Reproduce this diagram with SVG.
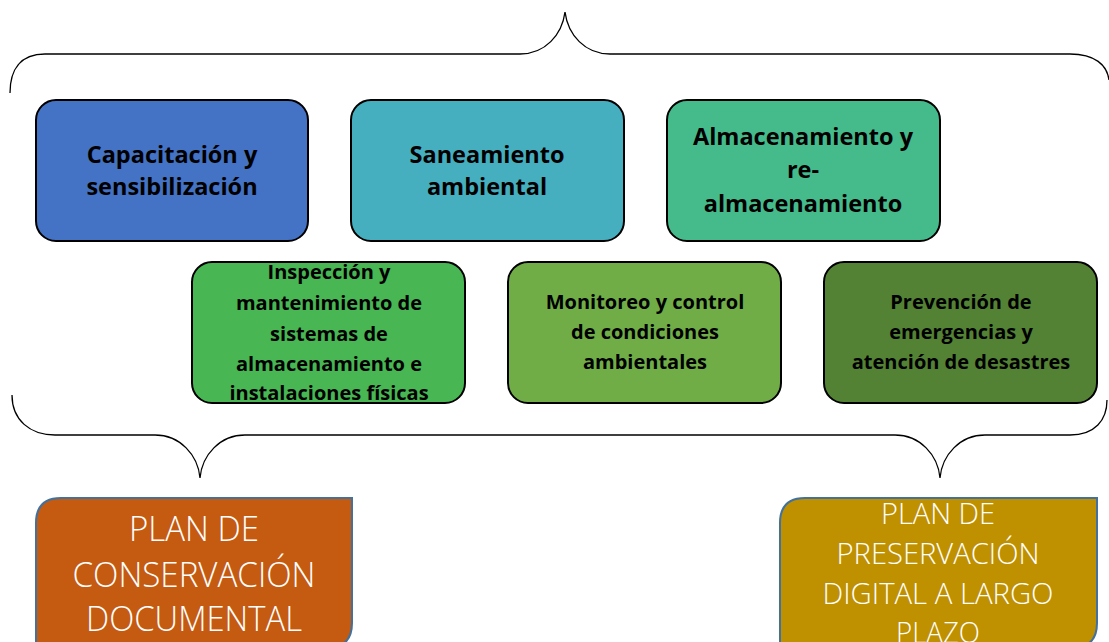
<svg xmlns="http://www.w3.org/2000/svg" width="1109" height="642" viewBox="0 0 1109 642">
<style>
.box{stroke:#000;stroke-width:2}
.t{font-family:"Open Sans","Noto Sans","Liberation Sans",sans-serif;font-weight:bold;fill:#000;text-anchor:middle}
.t1{font-size:23.5px}
.t2{font-size:20px}
.w{font-family:"Open Sans","Liberation Sans",sans-serif;font-weight:300;fill:#fff;text-anchor:middle}
.brace{fill:none;stroke:#000;stroke-width:1.3}
.plan{stroke:#41719C;stroke-width:2}
</style>
<g id="connectors">
<path class="brace" d="M10,93 C10,70 20,54 45,54 L520,54 C545,54 562,35 565,12 C568,35 585,54 610,54 L1070,54 C1095,54 1107,65 1109,80"/>
<path class="brace" d="M12,395 C12,420 30,435 55,435 L155,435 C180,435 198,455 200,478 C202,455 220,435 245,435 L895,435 C920,435 938,455 940,478 C942,455 960,435 985,435 L1070,435 C1095,435 1107,420 1107,400"/>
</g>
<g id="capacitacion">
<rect class="box" x="36" y="100" width="272" height="141" rx="20" fill="#4472C4"/>
<text class="t t1" x="172" y="163">Capacitación  y</text>
<text class="t t1" x="172" y="195">sensibilización</text>
</g>
<g id="saneamiento">
<rect class="box" x="351" y="100" width="273" height="141" rx="20" fill="#45AFC0"/>
<text class="t t1" x="487" y="163">Saneamiento</text>
<text class="t t1" x="487" y="195">ambiental</text>
</g>
<g id="almacenamiento">
<rect class="box" x="667" y="100" width="273" height="141" rx="20" fill="#45BB8C"/>
<text class="t t1" x="803" y="145">Almacenamiento  y</text>
<text class="t t1" x="803" y="178">re-</text>
<text class="t t1" x="803" y="212">almacenamiento</text>
</g>
<g id="inspeccion">
<rect class="box" x="192" y="262" width="273" height="141" rx="20" fill="#48B653"/>
<text class="t t2" x="329" y="279">Inspección y</text>
<text class="t t2" x="329" y="310">mantenimiento de</text>
<text class="t t2" x="329" y="341">sistemas de</text>
<text class="t t2" x="329" y="371">almacenamiento e</text>
<text class="t t2" x="329" y="400">instalaciones físicas</text>
</g>
<g id="monitoreo">
<rect class="box" x="508" y="262" width="273" height="141" rx="20" fill="#70AD47"/>
<text class="t t2" x="645" y="309">Monitoreo y control</text>
<text class="t t2" x="645" y="339">de condiciones</text>
<text class="t t2" x="645" y="369">ambientales</text>
</g>
<g id="prevencion">
<rect class="box" x="824" y="262" width="273" height="141" rx="20" fill="#548235"/>
<text class="t t2" x="961" y="309">Prevención de</text>
<text class="t t2" x="961" y="339">emergencias y</text>
<text class="t t2" x="961" y="369">atención de desastres</text>
</g>
<g id="plan-conservacion">
<path class="plan" d="M61,498 H352 V623 Q352,648 327,648 H36 V523 Q36,498 61,498 Z" fill="#C55A11"/>
<text class="w" x="194" y="541" font-size="34" textLength="130" lengthAdjust="spacingAndGlyphs">PLAN DE</text>
<text class="w" x="194" y="587" font-size="34" textLength="243" lengthAdjust="spacingAndGlyphs">CONSERVACIÓN</text>
<text class="w" x="194" y="631" font-size="34" textLength="216" lengthAdjust="spacingAndGlyphs">DOCUMENTAL</text>
</g>
<g id="plan-preservacion">
<path class="plan" d="M805,498 H1097 V623 Q1097,648 1072,648 H780 V523 Q780,498 805,498 Z" fill="#BF9000"/>
<text class="w" x="938" y="524" font-size="30" textLength="114" lengthAdjust="spacingAndGlyphs">PLAN DE</text>
<text class="w" x="938" y="564" font-size="30" textLength="203" lengthAdjust="spacingAndGlyphs">PRESERVACIÓN</text>
<text class="w" x="938" y="604" font-size="30" textLength="231" lengthAdjust="spacingAndGlyphs">DIGITAL A LARGO</text>
<text class="w" x="938" y="643" font-size="30" textLength="84" lengthAdjust="spacingAndGlyphs">PLAZO</text>
</g>
</svg>
